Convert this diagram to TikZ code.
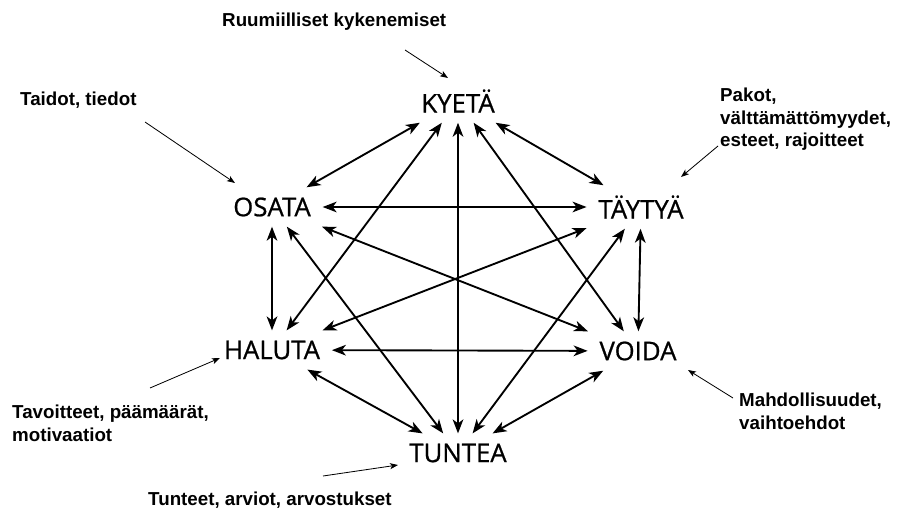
\documentclass[tikz,border=0pt]{standalone}
\usepackage{fontspec}
\setmainfont{Open Sans}
\newfontfamily\verbfont[FakeBold=0.8]{Open Sans}
\newfontfamily\labelfont{Liberation Sans}
\usetikzlibrary{arrows.meta, shapes}

\tikzset{
  verb/.style={inner xsep=0.35cm, inner ysep=0.3cm, font=\verbfont\fontsize{22}{26}\selectfont},
  note/.style={inner sep=0pt, align=left, font=\labelfont\bfseries\fontsize{16}{19.2}\selectfont},
  link/.style={{Stealth[length=4.2mm,width=3.2mm,inset=1.2mm]}-{Stealth[length=4.2mm,width=3.2mm,inset=1.2mm]}, line width=1.6pt},
  hint/.style={-{Stealth[length=2.4mm,width=1.8mm,inset=0.6mm]}, line width=0.7pt}
}

\begin{document}
\begin{tikzpicture}[x=0.03cm, y=-0.03cm]
\useasboundingbox (0,0) rectangle (900,514);

\node[verb] (KY) at (458,101) {KYETÄ};
\node[verb] (OS) at (272,207) {OSATA};
\node[verb] (TA) at (641,207) {TÄYTYÄ};
\node[verb] (HA) at (272,350) {HALUTA};
\node[verb] (VO) at (638,351) {VOIDA};
\node[verb] (TU) at (458,453) {TUNTEA};

\draw[link] (KY) -- (OS);
\draw[link] (KY) -- (TA);
\draw[link] (KY) -- (HA);
\draw[link] (KY) -- (VO);
\draw[link] (KY) -- (TU);
\draw[link] (OS) -- (TA);
\draw[link] (OS) -- (HA);
\draw[link] (OS) -- (VO);
\draw[link] (OS) -- (TU);
\draw[link] (TA) -- (HA);
\draw[link] (TA) -- (VO);
\draw[link] (TA) -- (TU);
\draw[link] (HA) -- (VO);
\draw[link] (HA) -- (TU);
\draw[link] (VO) -- (TU);

% selitteet
\node[note, anchor=west] (ruum) at (222,22) {Ruumiilliset kykenemiset};
\node[note, anchor=west] (taid) at (20,100) {Taidot, tiedot};
\node[note, anchor=north west] (pako) at (720,88) {Pakot,\\välttämättömyydet,\\esteet, rajoitteet};
\node[note, anchor=north west] (tavo) at (12,405) {Tavoitteet, päämäärät,\\motivaatiot};
\node[note, anchor=north west] (mahd) at (739,393) {Mahdollisuudet,\\vaihtoehdot};
\node[note, anchor=west] (tunt) at (148,500) {Tunteet, arviot, arvostukset};

\coordinate (ruum1) at (405,50);
\coordinate (taid1) at (145,122);
\coordinate (pako1) at (718,146);
\coordinate (tavo1) at (150,388);
\coordinate (mahd1) at (733,398);
\coordinate (tunt1) at (323,476);

\draw[hint] (ruum1) -- (448,78);
\draw[hint] (taid1) -- (235,183);
\draw[hint] (pako1) -- (681,177);
\draw[hint] (tavo1) -- (220,358);
\draw[hint] (mahd1) -- (688,370);
\draw[hint] (tunt1) -- (398,465);
\end{tikzpicture}
\end{document}
